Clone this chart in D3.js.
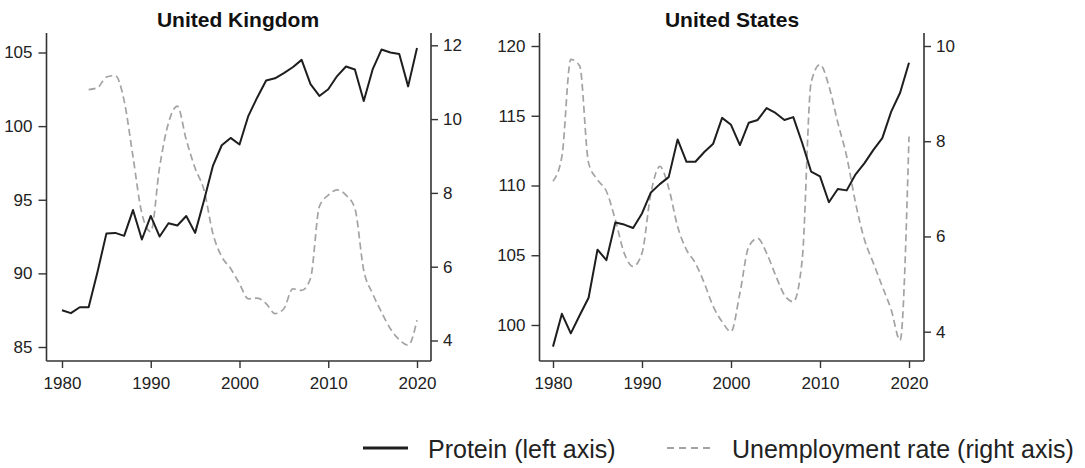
<!DOCTYPE html>
<html>
<head>
<meta charset="utf-8">
<script src="https://cdn.jsdelivr.net/npm/d3@7"></script>
<style>
  html, body { margin: 0; padding: 0; background: #fff; }
  svg { display: block; font-family: "Liberation Sans", Arial, sans-serif; }
</style>
</head>
<body>
<svg id="chart" width="1085" height="468"></svg>
<script>
// Annual series, 1980–2020
const years = d3.range(1980, 2021);

// Protein supply index (left axis)
const ukProtein = [87.5, 87.3, 87.7, 87.7, 90.1, 92.7, 92.75, 92.55, 94.3, 92.3,
  93.9, 92.5, 93.4, 93.25, 93.9, 92.75, 94.95, 97.3, 98.7, 99.2,
  98.75, 100.7, 101.95, 103.1, 103.25, 103.6, 104.0, 104.5, 102.85, 102.05,
  102.5, 103.4, 104.05, 103.85, 101.7, 103.85, 105.2, 105.0, 104.9, 102.7, 105.3];

const usProtein = [98.45, 100.8, 99.4, 100.7, 101.95, 105.4, 104.65, 107.35, 107.2, 106.95,
  108.0, 109.5, 110.1, 110.6, 113.3, 111.7, 111.7, 112.4, 113.0, 114.85,
  114.35, 112.9, 114.5, 114.7, 115.55, 115.2, 114.7, 114.9, 113.05, 111.0,
  110.65, 108.8, 109.75, 109.65, 110.8, 111.6, 112.55, 113.4, 115.3, 116.65, 118.8];

// Unemployment rate, % (right axis); UK series begins in 1983
const ukUnempYears = d3.range(1983, 2021);
const ukUnemp = [10.8, 10.85, 11.14, 11.18, 10.5, 8.98, 7.44, 6.95,
  8.7, 9.9, 10.35, 9.44, 8.67, 8.08, 6.9, 6.27, 5.95, 5.54, 5.13, 5.15,
  5.0, 4.73, 4.86, 5.4, 5.36, 5.68, 7.63, 7.94, 8.08, 7.94, 7.58, 5.9,
  5.27, 4.77, 4.32, 4.02, 3.87, 4.55];

const usUnemp = [7.16, 7.68, 9.72, 9.58, 7.54, 7.19, 6.95, 6.35, 5.65, 5.37,
  5.65, 6.91, 7.47, 7.02, 6.21, 5.72, 5.44, 5.02, 4.53, 4.21,
  4.0, 4.81, 5.79, 5.96, 5.65, 5.19, 4.77, 4.63, 5.51, 9.23,
  9.61, 9.16, 8.39, 7.68, 6.7, 5.93, 5.44, 4.95, 4.46, 3.82, 8.1];

// Tick values
const xTicks = [1980, 1990, 2000, 2010, 2020];
const ukLeftTicks = [85, 90, 95, 100, 105];
const ukRightTicks = [4, 6, 8, 10, 12];
const usLeftTicks = [100, 105, 110, 115, 120];
const usRightTicks = [4, 6, 8, 10];

const titles = ["United Kingdom", "United States"];
const legendLabels = ["Protein (left axis)", "Unemployment rate (right axis)"];

const svg = d3.select("#chart");

const solidColor = "#1e1e1e";
const dashColor = "#a3a3a3";
const axisColor = "#333";

function drawPanel(opt) {
  const g = svg.append("g");
  const x = d3.scaleLinear().domain([1980, 2020]).range(opt.xRange);
  const yL = d3.scaleLinear().domain(opt.leftDomain).range(opt.leftRange);
  const yR = d3.scaleLinear().domain(opt.rightDomain).range(opt.rightRange);

  const top = 33, bottom = 361;

  // axis frame lines
  g.append("line").attr("x1", opt.leftX).attr("x2", opt.leftX)
    .attr("y1", top).attr("y2", bottom)
    .attr("stroke", axisColor).attr("stroke-width", 1.6);
  g.append("line").attr("x1", opt.rightX).attr("x2", opt.rightX)
    .attr("y1", top).attr("y2", bottom)
    .attr("stroke", axisColor).attr("stroke-width", 1.6);
  g.append("line").attr("x1", opt.leftX).attr("x2", opt.rightX)
    .attr("y1", bottom).attr("y2", bottom)
    .attr("stroke", axisColor).attr("stroke-width", 1.6);

  const styleAxis = sel => {
    sel.select(".domain").remove();
    sel.selectAll(".tick line").attr("stroke", axisColor).attr("stroke-width", 1.4);
    sel.selectAll(".tick text").attr("fill", "#222")
      .style("font-family", "'Liberation Sans', Arial, sans-serif")
      .style("font-size", "17px");
  };

  g.append("g").attr("transform", `translate(${opt.leftX},0)`)
    .call(d3.axisLeft(yL).tickValues(opt.leftTicks).tickSize(8).tickPadding(6)
      .tickFormat(d3.format("d")))
    .call(styleAxis);

  g.append("g").attr("transform", `translate(${opt.rightX},0)`)
    .call(d3.axisRight(yR).tickValues(opt.rightTicks).tickSize(7).tickPadding(5)
      .tickFormat(d3.format("d")))
    .call(styleAxis);

  g.append("g").attr("transform", `translate(0,${bottom})`)
    .call(d3.axisBottom(x).tickValues(xTicks).tickSize(7).tickPadding(9)
      .tickFormat(d3.format("d")))
    .call(styleAxis);

  // unemployment, dashed
  const dashLine = d3.line()
    .x((d, i) => x(opt.unempYears[i]))
    .y(d => yR(d))
    .curve(d3.curveMonotoneX);
  g.append("path").datum(opt.unemp)
    .attr("d", dashLine)
    .attr("fill", "none")
    .attr("stroke", dashColor)
    .attr("stroke-width", 1.7)
    .attr("stroke-dasharray", "7,4");

  // protein, solid
  const solidLine = d3.line()
    .x((d, i) => x(years[i]))
    .y(d => yL(d));
  g.append("path").datum(opt.protein)
    .attr("d", solidLine)
    .attr("fill", "none")
    .attr("stroke", solidColor)
    .attr("stroke-width", 2)
    .attr("stroke-linejoin", "round");

  g.append("text")
    .attr("x", opt.titleX).attr("y", 27)
    .attr("text-anchor", "middle")
    .attr("font-weight", "bold")
    .attr("font-size", 21)
    .attr("fill", "#111")
    .text(opt.title);
}

drawPanel({
  title: titles[0], titleX: 238,
  xRange: [62, 417], leftX: 46.5, rightX: 431,
  leftDomain: [85, 105], leftRange: [347, 52.5],
  rightDomain: [4, 12], rightRange: [340.5, 45.3],
  leftTicks: ukLeftTicks, rightTicks: ukRightTicks,
  protein: ukProtein, unemp: ukUnemp, unempYears: ukUnempYears
});

drawPanel({
  title: titles[1], titleX: 732,
  xRange: [553, 909], leftX: 539.5, rightX: 924,
  leftDomain: [100, 120], leftRange: [325, 46],
  rightDomain: [4, 10], rightRange: [331.7, 46],
  leftTicks: usLeftTicks, rightTicks: usRightTicks,
  protein: usProtein, unemp: usUnemp, unempYears: years
});

// legend
const legend = svg.append("g");
legend.append("line").attr("x1", 363).attr("x2", 408).attr("y1", 448).attr("y2", 448)
  .attr("stroke", solidColor).attr("stroke-width", 3);
legend.append("text").attr("x", 428).attr("y", 458)
  .attr("font-size", 25).attr("fill", "#222").text(legendLabels[0]);
legend.append("line").attr("x1", 667).attr("x2", 713).attr("y1", 448).attr("y2", 448)
  .attr("stroke", dashColor).attr("stroke-width", 2.2).attr("stroke-dasharray", "7,5");
legend.append("text").attr("x", 732).attr("y", 458)
  .attr("font-size", 25).attr("fill", "#222").text(legendLabels[1]);
</script>
</body>
</html>
